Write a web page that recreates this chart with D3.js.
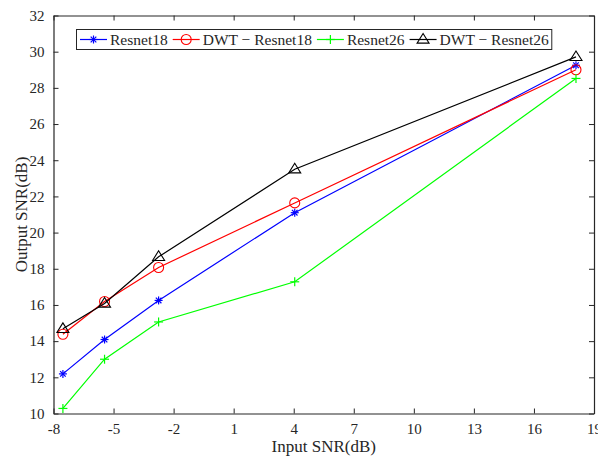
<!DOCTYPE html>
<html><head><meta charset="utf-8">
<script src="https://cdn.jsdelivr.net/npm/d3@7"></script>
<style>body{margin:0;background:#fff;} svg{display:block;}</style>
</head><body>
<script>
const xValues = [-7.53, -5.45, -2.75, 4.05, 18.1];
const resnet18 = [12.19, 14.09, 16.25, 21.1, 29.25];
const dwtResnet18 = [14.38, 16.19, 18.07, 21.64, 29.0];
const resnet26 = [10.28, 13.0, 15.06, 17.28, 28.52];
const dwtResnet26 = [14.68, 16.08, 18.66, 23.5, 29.71];
const xTicks = [-8, -5, -2, 1, 4, 7, 10, 13, 16, 19];
const yTicks = [10, 12, 14, 16, 18, 20, 22, 24, 26, 28, 30, 32];
const seriesNames = ["Resnet18", "DWT \u2212 Resnet18", "Resnet26", "DWT \u2212 Resnet26"];
const seriesColors = ["#0000ff", "#ff0000", "#00ff00", "#000000"];
const seriesMarkers = ["star", "circle", "plus", "triangle"];
const seriesData = [resnet18, dwtResnet18, resnet26, dwtResnet26];

(function () {
const W = 598, H = 459;
const mLeft = 53.5, mRight = 594, mTop = 15.5, mBottom = 413.5;
const font = "'Liberation Serif', 'Times New Roman', serif";
const ink = "#262626";

const svg = d3.select("body").append("svg").attr("width", W).attr("height", H);
const x = d3.scaleLinear().domain([-8, 19]).range([mLeft, mRight]);
const y = d3.scaleLinear().domain([10, 32]).range([mBottom, mTop]);

function styleAxis(g, showText) {
  g.select(".domain").attr("stroke", ink).attr("stroke-width", 1.2);
  g.selectAll(".tick line").attr("stroke", ink).attr("stroke-width", 1);
  g.selectAll(".tick text").attr("fill", ink).style("font-family", font).style("font-size", "15px");
  if (!showText) g.selectAll(".tick text").remove();
}
const fmt = d => String(d);
svg.append("g").attr("transform", `translate(0,${mBottom})`)
  .call(d3.axisBottom(x).tickValues(xTicks).tickFormat(fmt).tickSizeInner(-5).tickSizeOuter(0).tickPadding(10))
  .call(g => styleAxis(g, true));
svg.append("g").attr("transform", `translate(0,${mTop})`)
  .call(d3.axisTop(x).tickValues(xTicks).tickSizeInner(-5).tickSizeOuter(0))
  .call(g => styleAxis(g, false));
svg.append("g").attr("transform", `translate(${mLeft},0)`)
  .call(d3.axisLeft(y).tickValues(yTicks).tickFormat(fmt).tickSizeInner(-5).tickSizeOuter(0).tickPadding(9))
  .call(g => styleAxis(g, true));
svg.append("g").attr("transform", `translate(${mRight},0)`)
  .call(d3.axisRight(y).tickValues(yTicks).tickSizeInner(-5).tickSizeOuter(0))
  .call(g => styleAxis(g, false));

svg.append("text").attr("x", (mLeft + mRight) / 2).attr("y", 452)
  .attr("text-anchor", "middle").attr("fill", ink)
  .style("font-family", font).style("font-size", "17px").text("Input SNR(dB)");
svg.append("text").attr("transform", `translate(27,${(mTop + mBottom) / 2}) rotate(-90)`)
  .attr("text-anchor", "middle").attr("fill", ink)
  .style("font-family", font).style("font-size", "17px").text("Output SNR(dB)");

function drawMarker(g, type, cx, cy, color) {
  if (type === "star") {
    const r = 4;
    const p = g.append("g").attr("stroke", color).attr("stroke-width", 1.2);
    p.append("line").attr("x1", cx - r).attr("x2", cx + r).attr("y1", cy).attr("y2", cy);
    p.append("line").attr("x1", cx).attr("x2", cx).attr("y1", cy - r).attr("y2", cy + r);
    p.append("line").attr("x1", cx - r * 0.7).attr("x2", cx + r * 0.7).attr("y1", cy - r * 0.7).attr("y2", cy + r * 0.7);
    p.append("line").attr("x1", cx - r * 0.7).attr("x2", cx + r * 0.7).attr("y1", cy + r * 0.7).attr("y2", cy - r * 0.7);
  } else if (type === "circle") {
    g.append("circle").attr("cx", cx).attr("cy", cy).attr("r", 5).attr("fill", "none").attr("stroke", color).attr("stroke-width", 1.1);
  } else if (type === "plus") {
    const r = 4.5;
    const p = g.append("g").attr("stroke", color).attr("stroke-width", 1.2);
    p.append("line").attr("x1", cx - r).attr("x2", cx + r).attr("y1", cy).attr("y2", cy);
    p.append("line").attr("x1", cx).attr("x2", cx).attr("y1", cy - r).attr("y2", cy + r);
  } else if (type === "triangle") {
    const s = 6;
    g.append("path").attr("d", `M${cx},${cy - s}L${cx + s},${cy + s * 0.6}L${cx - s},${cy + s * 0.6}Z`)
      .attr("fill", "none").attr("stroke", color).attr("stroke-width", 1.1);
  }
}

const line = d3.line().x(d => x(d[0])).y(d => y(d[1]));
seriesData.forEach((vals, i) => {
  const pts = xValues.map((xv, j) => [xv, vals[j]]);
  const g = svg.append("g");
  g.append("path").attr("d", line(pts)).attr("fill", "none").attr("stroke", seriesColors[i]).attr("stroke-width", 1.2);
  pts.forEach(p => drawMarker(g, seriesMarkers[i], x(p[0]), y(p[1]), seriesColors[i]));
});

// legend laid out sequentially to fill the box 76..552
const lg = svg.append("g");
const box = lg.append("rect").attr("x", 76.5).attr("y", 29.5).attr("height", 20)
  .attr("fill", "#fff").attr("stroke", ink).attr("stroke-width", 1);
const lineLen = 27, gapText = 3, gapItem = 5;
const targetEnd = 549;
// measure widths at base size
let fs = 15.5;
const probe = lg.append("text").style("font-family", font).style("font-size", fs + "px");
const widths = seriesNames.map(n => { probe.text(n); return probe.node().getComputedTextLength(); });
probe.remove();
const fixed = 80 + seriesNames.length * (lineLen + gapText) + (seriesNames.length - 1) * gapItem;
const sumW = d3.sum(widths);
const scale = (targetEnd - fixed) / sumW;
fs = fs * scale;
let x0 = 80;
const cy = 39.5;
seriesNames.forEach((name, i) => {
  lg.append("line").attr("x1", x0).attr("x2", x0 + lineLen).attr("y1", cy).attr("y2", cy)
    .attr("stroke", seriesColors[i]).attr("stroke-width", 1.2);
  drawMarker(lg, seriesMarkers[i], x0 + lineLen / 2, cy, seriesColors[i]);
  const t = lg.append("text").attr("x", x0 + lineLen + gapText).attr("y", cy + 5.5).attr("fill", ink)
    .style("font-family", font).style("font-size", fs + "px").text(name);
  x0 = x0 + lineLen + gapText + t.node().getComputedTextLength() + gapItem;
});
box.attr("width", x0 - gapItem + 3 - 76.5);
})();
</script>
</body></html>
